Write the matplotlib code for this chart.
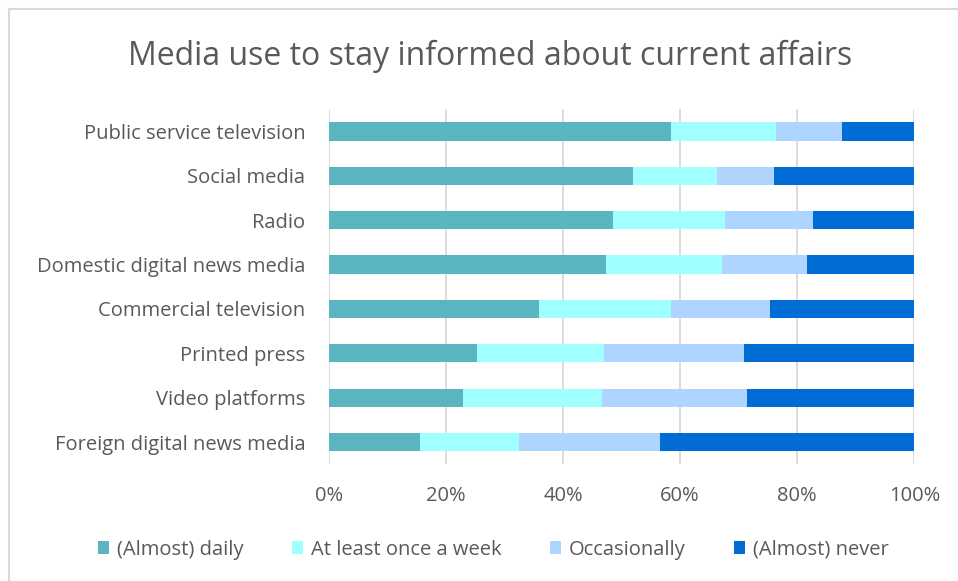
#!/usr/bin/env python
# -*- coding: utf-8 -*-
"""
Stacked horizontal bars: media use to stay informed about current affairs
"""

import numpy as np
import matplotlib
matplotlib.use('Agg')
import matplotlib.pyplot as plt
from matplotlib.lines import Line2D

# data (percent of respondents), top row first
categories = ['Public service television', 'Social media', 'Radio',
              'Domestic digital news media', 'Commercial television',
              'Printed press', 'Video platforms', 'Foreign digital news media']
daily = [58.4, 51.9, 48.6, 47.4, 35.8, 25.3, 22.9, 15.6]
weekly = [18.0, 14.4, 19.0, 19.8, 22.6, 21.7, 23.7, 16.9]
occasionally = [11.2, 9.8, 15.1, 14.4, 16.9, 23.9, 24.9, 24.1]
never = [12.4, 23.9, 17.3, 18.4, 24.7, 29.1, 28.5, 43.4]
series_names = ['(Almost) daily', 'At least once a week', 'Occasionally', '(Almost) never']
ticks = [0, 20, 40, 60, 80, 100]

colors = ['#5BB5C0', '#A0FFFF', '#ADD5FF', '#006CD4']
text_color = '#595959'


def plot(fout='out.png'):
    plt.rcParams['font.family'] = ['Open Sans', 'DejaVu Sans']
    fig = plt.figure(figsize=(9.58, 5.81), dpi=100)
    ax = fig.add_axes([0.3434, 0.201, 0.611, 0.611])

    y = np.arange(len(categories))[::-1]
    left = np.zeros(len(categories))
    for vals, name, col in zip([daily, weekly, occasionally, never], series_names, colors):
        vals = np.array(vals)
        ax.barh(y, vals, left=left, height=0.41, color=col, label=name, zorder=3)
        left = left + vals

    ax.set_xlim(0, 100)
    ax.set_ylim(-0.5, len(categories) - 0.5)
    ax.set_xticks(ticks)
    ax.set_xticklabels(['%d%%' % t for t in ticks])
    ax.set_yticks(y)
    ax.set_yticklabels(categories)
    ax.tick_params(axis='both', length=0, labelsize=14.5, colors=text_color)
    ax.tick_params(axis='x', pad=16)
    ax.tick_params(axis='y', pad=17)
    ax.grid(axis='x', color='#D9D9D9', linewidth=1.3, zorder=0)
    for s in ax.spines.values():
        s.set_visible(False)

    fig.text(0.512, 0.903, 'Media use to stay informed about current affairs',
             ha='center', va='center', fontsize=23, color=text_color)

    leg = fig.legend(loc='center', bbox_to_anchor=(0.515, 0.054), ncol=4,
                     frameon=False, fontsize=14.5, handlelength=0.55,
                     handleheight=0.6, handletextpad=0.4, columnspacing=2.4)
    for t in leg.get_texts():
        t.set_color(text_color)

    # light chart border (top and left only visible)
    fig.add_artist(Line2D([0.009, 1.0], [0.984, 0.984], transform=fig.transFigure,
                          color='#D9D9D9', linewidth=1.5))
    fig.add_artist(Line2D([0.009, 0.009], [0.0, 0.984], transform=fig.transFigure,
                          color='#D9D9D9', linewidth=1.5))

    plt.savefig(fout, dpi=100, facecolor='white')
    plt.close()


def main():
    plot('out.png')


if __name__ == '__main__':
    main()
